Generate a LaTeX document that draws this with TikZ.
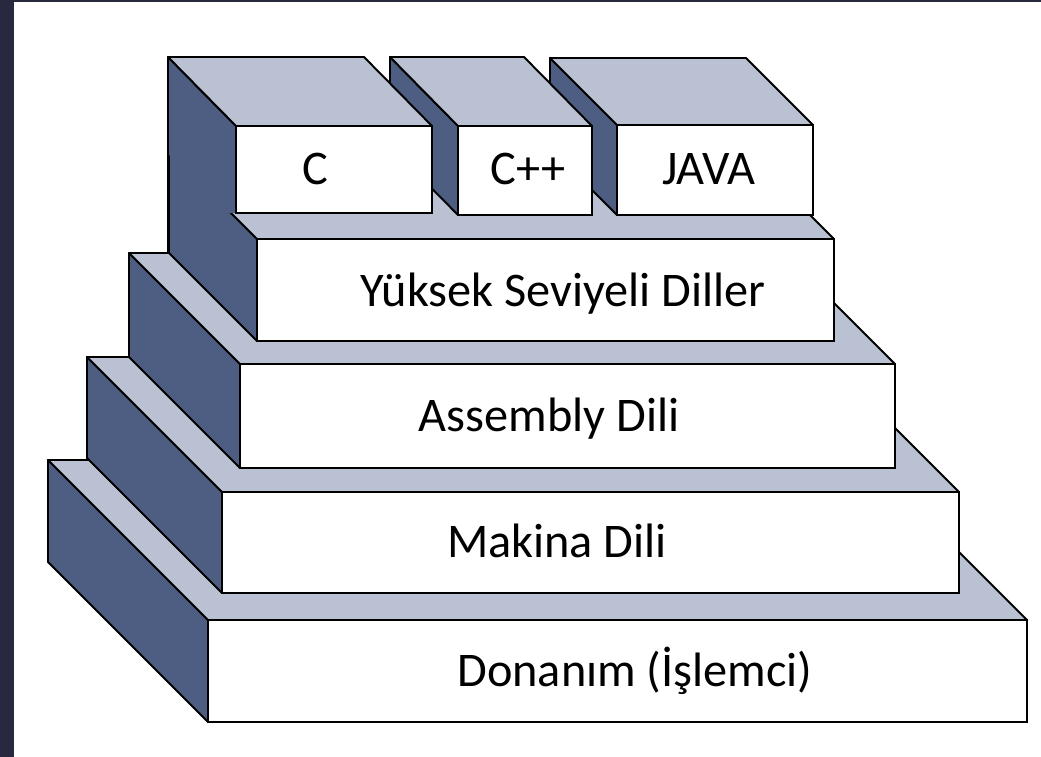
\documentclass[tikz,border=0pt]{standalone}
\usepackage{fontspec}
\setmainfont{Carlito}
\definecolor{sideblue}{RGB}{78,94,130}
\definecolor{topblue}{RGB}{186,193,211}
\definecolor{framedark}{RGB}{40,41,62}
\tikzset{
    sideface/.style = {fill=sideblue, draw=black, line width=1.1pt, line join=round},
    topface/.style = {fill=topblue, draw=black, line width=1.1pt, line join=round},
    frontface/.style = {fill=white, draw=black, line width=1.3pt},
    layertext/.style = {font=\fontsize{27.5}{32}\selectfont, text=black, inner sep=0pt, anchor=base},
}

\begin{document}
\begin{tikzpicture}[x=0.02cm,y=-0.02cm]
\useasboundingbox (0,0) rectangle (1041,757);
\fill[framedark] (0,0) rectangle (14,757);
\fill[framedark] (0,0) rectangle (1041,2);

% hardware
\draw[sideface] (208,722) -- (208,620) -- (48,460) -- (48,562) -- cycle;
\draw[topface] (208,620) -- (1027,620) -- (867,460) -- (48,460) -- cycle;
\draw[frontface] (208,620) rectangle (1027,722);
\node[layertext] at (635,686) (donanim) {Donanım (İşlemci)};

% machine code
\draw[sideface] (222,593) -- (222,492) -- (87,357) -- (87,458) -- cycle;
\draw[topface] (222,492) -- (959,492) -- (824,357) -- (87,357) -- cycle;
\draw[frontface] (222,492) rectangle (959,593);
\node[layertext] at (557,557) (makina) {Makina Dili};

% assembly
\draw[sideface] (240,468) -- (240,364) -- (129,253) -- (129,357) -- cycle;
\draw[topface] (240,364) -- (895,364) -- (784,253) -- (129,253) -- cycle;
\draw[frontface] (240,364) rectangle (895,468);
\node[layertext] at (549,431) (assembly) {Assembly Dili};

% high level
\draw[sideface] (257,341) -- (257,239) -- (169,151) -- (169,253) -- cycle;
\draw[topface] (257,239) -- (834,239) -- (746,151) -- (169,151) -- cycle;
\draw[frontface] (257,239) rectangle (834,341);
\node[layertext] at (563,306) (yuksek) {Yüksek Seviyeli Diller};

% languages, right to left
\draw[sideface] (617,215) -- (617,125) -- (550,58) -- (550,148) -- cycle;
\draw[topface] (617,125) -- (813,125) -- (746,58) -- (550,58) -- cycle;
\draw[frontface] (617,125) rectangle (813,215);
\node[layertext] at (709,184) (java) {JAVA};

\draw[sideface] (458,215) -- (458,126) -- (390,57) -- (390,146) -- cycle;
\draw[topface] (458,126) -- (592,126) -- (524,57) -- (390,57) -- cycle;
\draw[frontface] (458,126) rectangle (592,215);
\node[layertext] at (528,184) (cpp) {C++};

% left face runs down onto the high level block
\fill[sideblue] (236,213) -- (236,126) -- (168,57) -- (168,154) -- (227,213) -- cycle;
\draw[sideface, fill=none] (236,213) -- (236,126) -- (168,57) -- (168,253);
\draw[topface] (236,126) -- (432,126) -- (364,57) -- (168,57) -- cycle;
\draw[frontface] (236,126) rectangle (432,213);
\node[layertext] at (315,184) (c) {C};

\end{tikzpicture}
\end{document}
